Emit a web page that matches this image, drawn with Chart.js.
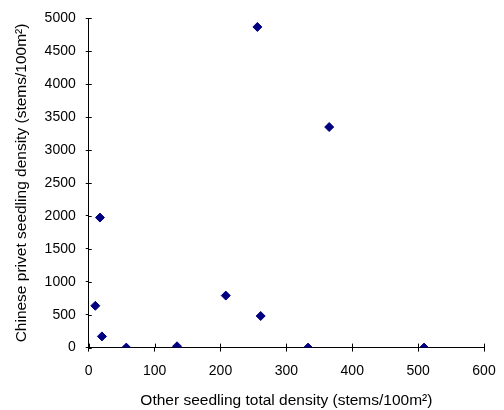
<!DOCTYPE html>
<html>
<head>
<meta charset="utf-8">
<script src="https://cdn.jsdelivr.net/npm/chart.js@4"></script>
<style>
  body { margin: 0; background: #fff; }
</style>
</head>
<body>
<canvas id="chart" width="504" height="410"></canvas>
<script>
// other seedling total density (x) vs chinese privet density (y)
let otherDensity = [256, 365, 17, 10, 20, 57, 134, 208, 261, 333, 509];
let privetDensity = [4870, 3350, 1975, 635, 170, 0, 20, 790, 480, 0, 0];
let xTicks = [0, 100, 200, 300, 400, 500, 600];
let yTicks = [0, 500, 1000, 1500, 2000, 2500, 3000, 3500, 4000, 4500, 5000];

let points = otherDensity.map((x, i) => ({ x: x, y: privetDensity[i] }));

Chart.defaults.font.family = "'Liberation Sans', Arial, sans-serif";
Chart.defaults.font.size = 14;
Chart.defaults.color = "#000";

// excel style ticks: draw the half that sits inside the plot
const innerTicks = {
  id: "innerTicks",
  afterDraw(chart) {
    const c = chart.ctx;
    const x = chart.scales.x;
    const y = chart.scales.y;
    c.save();
    c.strokeStyle = "#000";
    c.lineWidth = 1;
    c.beginPath();
    xTicks.forEach((v) => {
      let px = Math.round(x.getPixelForValue(v)) + 0.5;
      c.moveTo(px, y.bottom);
      c.lineTo(px, y.bottom - 4);
    });
    yTicks.forEach((v) => {
      let py = Math.round(y.getPixelForValue(v)) + 0.5;
      c.moveTo(x.left, py);
      c.lineTo(x.left + 3, py);
    });
    c.stroke();
    c.restore();
  },
};

const ctx = document.getElementById("chart");
let myChart = new Chart(ctx, {
  type: "scatter",
  data: {
    datasets: [
      {
        data: points,
        pointStyle: "rectRot",
        pointRadius: 4.5,
        pointBorderWidth: 1,
        backgroundColor: "#000080",
        borderColor: "#000080",
      },
    ],
  },
  options: {
    responsive: false,
    animation: false,
    layout: { padding: { left: 12, right: 0, top: 7, bottom: 0 } },
    plugins: {
      legend: { display: false },
      tooltip: { enabled: false },
    },
    scales: {
      x: {
        type: "linear",
        min: 0,
        max: 600,
        afterBuildTicks: (s) => { s.ticks = xTicks.map((v) => ({ value: v })); },
        afterFit: (s) => { s.paddingRight = 20; },
        grid: { drawOnChartArea: false, color: "#000", tickLength: 4 },
        border: { color: "#000", width: 1 },
        ticks: { padding: 11, callback: (v) => String(v) },
        title: {
          display: true,
          text: "Other seedling total density (stems/100m²)",
          font: { size: 15.5 },
          padding: { top: 1, bottom: 0 },
        },
      },
      y: {
        type: "linear",
        min: 0,
        max: 5000,
        afterBuildTicks: (s) => { s.ticks = yTicks.map((v) => ({ value: v })); },
        grid: { drawOnChartArea: false, color: "#000", tickLength: 3 },
        border: { color: "#000", width: 1 },
        ticks: { padding: 10, callback: (v) => String(v) },
        title: {
          display: true,
          text: "Chinese privet seedling density (stems/100m²)",
          font: { size: 15.5 },
          padding: { top: 0, bottom: 4 },
        },
      },
    },
  },
  plugins: [innerTicks],
});
</script>
</body>
</html>
